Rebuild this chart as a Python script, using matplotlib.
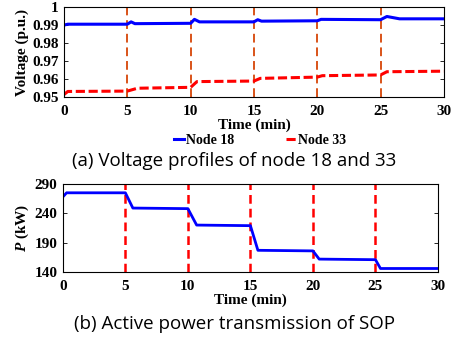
import matplotlib.pyplot as plt

# Data
t18 = [0, 0.3, 5.0, 5.3, 5.6, 10.0, 10.3, 10.7, 15.0, 15.3, 15.6, 20.0, 20.3, 25.0, 25.5, 26.5, 30]
v18 = [0.9900, 0.9905, 0.9905, 0.9918, 0.9908, 0.9910, 0.9932, 0.9918, 0.9918, 0.9930,
       0.9922, 0.9924, 0.9932, 0.9930, 0.9948, 0.9935, 0.9935]
t33 = [0, 0.3, 5.0, 5.8, 10.0, 10.5, 15.0, 15.5, 20.0, 20.4, 25.0, 25.5, 30]
v33 = [0.9513, 0.9530, 0.9532, 0.9548, 0.9553, 0.9585, 0.9588, 0.9603, 0.9610, 0.9618,
       0.9622, 0.9640, 0.9643]
tp = [0, 0.3, 5.0, 5.6, 10.0, 10.7, 15.0, 15.6, 20.0, 20.5, 25.0, 25.4, 30]
p = [268, 275, 275, 249, 248, 220, 219, 177, 176, 162, 161, 146, 146]
switch_times = [5, 10, 15, 20, 25]

serif = 'Liberation Serif'
plt.rcParams['mathtext.fontset'] = 'custom'
plt.rcParams['mathtext.it'] = 'Liberation Serif:italic:bold'

fig = plt.figure(figsize=(4.52, 3.41), dpi=100)
ax1 = fig.add_axes([0.1416, 0.716, 0.8404, 0.263])
ax2 = fig.add_axes([0.139, 0.2023, 0.830, 0.2581])

# (a) voltage
for ts in switch_times:
    ax1.axvline(ts, color='#D95319', lw=1.4, ls=(0, (4.5, 2.5)))
l1, = ax1.plot(t18, v18, color='#0000FF', lw=2.2, label='Node 18')
l2, = ax1.plot(t33, v33, color='#FF0000', lw=2.2, ls=(0, (3, 1.2)), label='Node 33')
ax1.set_xlim(0, 30)
ax1.set_ylim(0.95, 1.0)
ax1.set_xticks([0, 5, 10, 15, 20, 25, 30])
ax1.set_yticks([0.95, 0.96, 0.97, 0.98, 0.99, 1.0])
ax1.set_yticklabels(['0.95', '0.96', '0.97', '0.98', '0.99', '1'])
ax1.set_xlabel('Time (min)', fontfamily=serif, fontweight='bold', fontsize=11, labelpad=0)
ax1.set_ylabel('Voltage (p.u.)', fontfamily=serif, fontweight='bold', fontsize=11, labelpad=2)
ax1.legend(handles=[l1, l2], loc='center', bbox_to_anchor=(0.517, -0.49), ncol=2,
           frameon=False, handlelength=0.7, handletextpad=0.15, columnspacing=3.75,
           prop=dict(family=serif, weight='bold', size=10))

# (b) active power
for ts in switch_times:
    ax2.axvline(ts, color='#FF0000', lw=1.8, ls=(0, (3.5, 2)))
ax2.plot(tp, p, color='#0000FF', lw=2.0)
ax2.set_xlim(0, 30)
ax2.set_ylim(140, 290)
ax2.set_xticks([0, 5, 10, 15, 20, 25, 30])
ax2.set_yticks([140, 190, 240, 290])
ax2.set_xlabel('Time (min)', fontfamily=serif, fontweight='bold', fontsize=11, labelpad=0)
ax2.set_ylabel(r'$P$ (kW)', fontfamily=serif, fontweight='bold', fontsize=11, labelpad=2)

for ax in (ax1, ax2):
    ax.tick_params(direction='in', top=True, right=True, length=3, width=0.6, pad=4)
    ax.tick_params(axis='x', pad=6)
    for lab in ax.get_xticklabels() + ax.get_yticklabels():
        lab.set_fontfamily(serif)
        lab.set_fontweight('bold')
        lab.set_fontsize(11)
    for s in ax.spines.values():
        s.set_linewidth(0.8)

fig.text(0.519, 0.528, '(a) Voltage profiles of node 18 and 33', ha='center', va='center',
         fontfamily='Open Sans', fontsize=13.5)
fig.text(0.518, 0.05, '(b) Active power transmission of SOP', ha='center', va='center',
         fontfamily='Open Sans', fontsize=13.5)

fig.savefig('out.png', dpi=100)
